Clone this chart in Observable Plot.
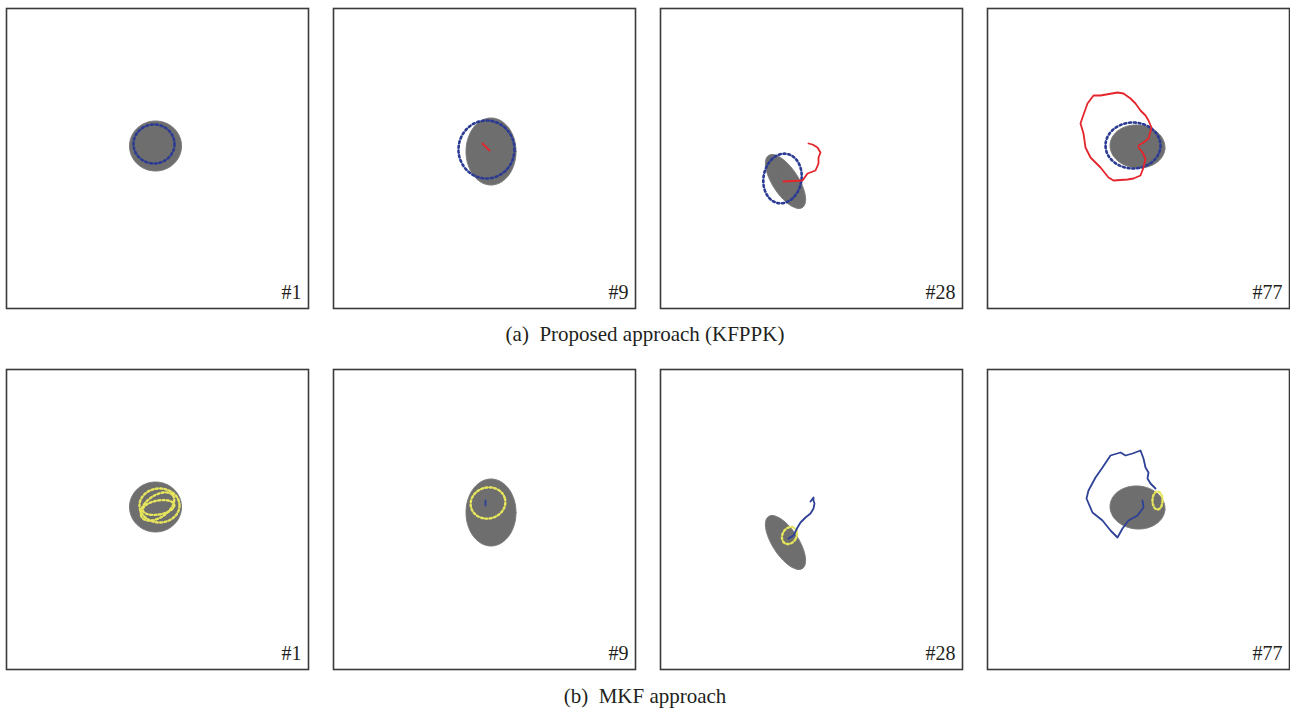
<!DOCTYPE html>
<html><head><meta charset="utf-8">
<script src="https://cdn.jsdelivr.net/npm/d3@7"></script>
<script src="https://cdn.jsdelivr.net/npm/@observablehq/plot@0.6"></script>
<style>
html,body{margin:0;padding:0;background:#fff;overflow:hidden;width:1290px;height:716px;}
#rowA{position:absolute;left:0;top:0;}
#rowB{position:absolute;left:0;top:361px;}
.cap{position:absolute;left:0;width:1290px;text-align:center;font-family:"Liberation Serif","DejaVu Serif",serif;font-size:21px;line-height:20px;color:#231f20;white-space:pre;}
#capA{top:324px;}
#capB{top:686px;}
</style></head><body>
<div id="rowA"></div>
<div id="capA" class="cap">(a)  Proposed approach (KFPPK)</div>
<div id="rowB"></div>
<div id="capB" class="cap">(b)  MKF approach</div>
<script>
// Frames (panel labels)
const frames = ["#1", "#9", "#28", "#77"];

// Ground-truth object ellipse (gray), panel pixel units (y downward)
const objCx = [149, 157.5, 125, 150];
const objCy = [137.5, 143, 173, 138];
const objRx = [26, 25, 31, 27.5];
const objRy = [25, 33.5, 13, 21.5];
const objAngle = [0, 0, 57, 5];

// KFPPK estimated extent (blue dotted ellipse)
const kfCx = [147.5, 153, 122, 145.5];
const kfCy = [135.5, 141, 170, 137];
const kfRx = [20.5, 28, 19, 27.5];
const kfRy = [19.5, 29, 25, 23];
const kfAngle = [0, 0, 10, 0];

// MKF estimated extents (yellow dotted ellipses)
const mkfFrame = ["#1", "#1", "#1", "#9", "#28", "#77"];
const mkfCx = [153, 152, 151, 154.5, 129, 170];
const mkfCy = [136, 138, 137, 133.5, 166, 131];
const mkfRx = [20, 16, 19, 17.5, 7, 5];
const mkfRy = [17, 7, 11, 15.5, 9, 9];
const mkfAngle = [0, -10, -35, -15, 30, 0];

// KFPPK estimated trajectories (red)
const kfTrack9 = [[149,135],[156,142]];
const kfTrack28 = [[123,173],[142,172],[147,165],[155,162],[158,155],[158,149],[160,144],[157,139],[152,136],[148,135]];
const kfTrack77 = [[151,137],[156,134],[161,130],[164,119],[161,112],[158,107],[153,102],[148,95],[143,90],[136,85],[130,84],[113,87],[106,87],[100,95],[95,109],[93,115],[96,125],[98,139],[103,149],[113,159],[121,169],[126,172],[140,171],[146,170],[153,167],[156,159],[158,150],[155,144],[151,139]];

// MKF estimated trajectories (blue)
const mkfTrack9 = [[152,131],[152,136]];
const mkfTrack28 = [[128,169],[133,166],[137,158],[140,153],[145,148],[150,144],[153,139],[154,134],[153,131],[153,128],[150,132]];
const mkfTrack77 = [[155,131],[156,138],[150,146],[141,151],[135,159],[130,168],[123,161],[115,151],[105,143],[99,129],[101,121],[108,108],[115,98],[123,86],[133,83],[138,86],[145,84],[153,81],[156,89],[158,98],[161,103],[160,109],[163,114],[168,119]];

function ellipse(fr, cx, cy, rx, ry, ang, id) {
  const t = ang * Math.PI / 180;
  return d3.range(97).map(i => {
    const p = i / 96 * 2 * Math.PI;
    const ex = rx * Math.cos(p), ey = ry * Math.sin(p);
    return {fx: fr, id, x: cx + ex * Math.cos(t) - ey * Math.sin(t), y: cy + ex * Math.sin(t) + ey * Math.cos(t)};
  });
}
const objPts = frames.flatMap((f, i) => ellipse(f, objCx[i], objCy[i], objRx[i], objRy[i], objAngle[i], "o" + i));
const kfPts = frames.flatMap((f, i) => ellipse(f, kfCx[i], kfCy[i], kfRx[i], kfRy[i], kfAngle[i], "k" + i));
const mkfPts = mkfFrame.flatMap((f, i) => ellipse(f, mkfCx[i], mkfCy[i], mkfRx[i], mkfRy[i], mkfAngle[i], "m" + i));
const track = (fr, arr) => arr.map(([x, y]) => ({fx: fr, x, y}));
const kfTracks = [...track("#9", kfTrack9), ...track("#28", kfTrack28), ...track("#77", kfTrack77)];
const mkfTracks = [...track("#9", mkfTrack9), ...track("#28", mkfTrack28), ...track("#77", mkfTrack77)];

function row(marks) {
  return Plot.plot({
    width: 1290, height: 312,
    marginLeft: 6, marginRight: 1, marginTop: 8, marginBottom: 4,
    x: {domain: [0, 302], axis: null},
    y: {domain: [0, 300], reverse: true, axis: null},
    fx: {domain: frames, paddingInner: 0.077, paddingOuter: 0, axis: null},
    style: {background: "#fff"},
    marks: [
      Plot.line(objPts, {x: "x", y: "y", z: "id", fx: "fx", fill: "#6e6e6e", stroke: "#7a7a7a", strokeWidth: 1, curve: "linear-closed"}),
      ...marks,
      Plot.frame({stroke: "#3a3a3a", strokeWidth: 1.6}),
      Plot.text(frames, {fx: d => d, text: d => d, frameAnchor: "bottom-right", lineAnchor: "bottom", dx: -7, dy: -10, fontSize: 20, fontFamily: "Liberation Serif", fill: "#231f20"})
    ]
  });
}

document.getElementById("rowA").append(row([
  Plot.line(kfPts, {x: "x", y: "y", z: "id", fx: "fx", stroke: "#2b3b93", strokeWidth: 2.6, strokeDasharray: "2 2.8", curve: "linear-closed"}),
  Plot.line(kfTracks, {x: "x", y: "y", z: "fx", fx: "fx", stroke: "#e4252b", strokeWidth: 1.8, curve: "linear"})
]));
document.getElementById("rowB").append(row([
  Plot.line(mkfPts, {x: "x", y: "y", z: "id", fx: "fx", stroke: "#e6e55c", strokeWidth: 2.4, strokeDasharray: "2 2.4", curve: "linear-closed"}),
  Plot.line(mkfTracks, {x: "x", y: "y", z: "fx", fx: "fx", stroke: "#2e4196", strokeWidth: 1.8, curve: "linear"})
]));
</script>
</body></html>
